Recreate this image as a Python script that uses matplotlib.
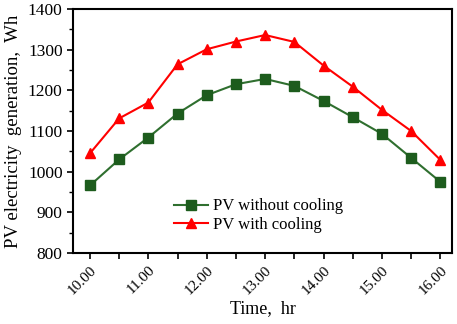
import matplotlib
matplotlib.use("Agg")
import matplotlib.pyplot as plt
import numpy as np

times = [10.0, 10.5, 11.0, 11.5, 12.0, 12.5, 13.0, 13.5, 14.0, 14.5, 15.0, 15.5, 16.0]
pv_without = [966, 1030, 1084, 1143, 1188, 1215, 1228, 1211, 1174, 1134, 1093, 1034, 975]
pv_with = [1045, 1131, 1170, 1264, 1301, 1320, 1336, 1319, 1261, 1209, 1152, 1100, 1029]
xtick_labels = ["10.00", "11.00", "12.00", "13.00", "14.00", "15.00", "16.00"]
yticks = [800, 900, 1000, 1100, 1200, 1300, 1400]

plt.rcParams['font.family'] = ['Liberation Serif', 'DejaVu Serif']

fig = plt.figure(figsize=(4.57, 3.24), dpi=100)
ax = fig.add_axes([73/457, 1-253/324, (452-73)/457, (253-9)/324])

ax.plot(times, pv_without, color='#2f6f2f', lw=1.5, marker='s', ms=7,
        mfc='#1d5c1d', mec='#1d5c1d', label='PV without cooling')
ax.plot(times, pv_with, color='#ff0000', lw=1.5, marker='^', ms=7,
        mfc='#ff0000', mec='#ff0000', label='PV with cooling')

ax.set_xlim(9.71, 16.2)
ax.set_ylim(800, 1400)
ax.set_xticks(times)
ax.set_xticklabels([xtick_labels[i // 2] if i % 2 == 0 else '' for i in range(len(times))],
                   rotation=45, fontsize=11, ha='right', rotation_mode='anchor')
ax.set_yticks(yticks)
ax.set_yticklabels([str(v) for v in yticks], fontsize=12.5)
ax.set_yticks(np.arange(850, 1400, 100), minor=True)
ax.tick_params(axis='both', which='major', direction='out', length=4, width=1.2)
ax.tick_params(axis='y', which='minor', direction='out', length=3, width=1.0)
for s in ax.spines.values():
    s.set_linewidth(1.5)

ax.set_ylabel('PV electricity  generation,  Wh', fontsize=13.5, labelpad=4)
ax.set_xlabel('Time,  hr', fontsize=13, labelpad=2)

leg = ax.legend(loc='lower left', bbox_to_anchor=(0.25, 0.055), frameon=False,
                fontsize=12, handlelength=2.0, handletextpad=0.3, labelspacing=0.15,
                borderaxespad=0)

fig.savefig('out.png', dpi=100)
